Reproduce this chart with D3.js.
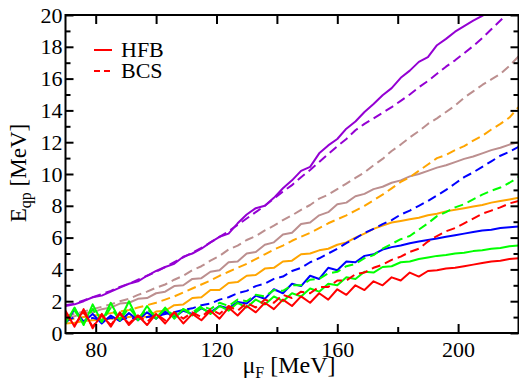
<!DOCTYPE html>
<html>
<head>
<meta charset="utf-8">
<script src="https://cdn.jsdelivr.net/npm/d3@7"></script>
<style>
body { margin: 0; background: #fff; }
svg { display: block; }
text { font-family: "Liberation Serif", "Times New Roman", serif; fill: #000; }
</style>
</head>
<body>
<svg id="chart" width="519" height="381"></svg>
<script>

// chemical potential grid (MeV)
var muF = [70,73,76,79,82,85,88,91,94,97,100,103,106,109,112,115,118,121,124,127,130,133,136,139,142,145,148,151,154,157,160,163,166,169,172,175,178,181,184,187,190,193,196,199,202,205,208,211,214,217,220];

// quasiparticle energies (MeV)
var hfbRed = [1.4,0.4,1.5,0.3,1.2,0.4,1.3,0.5,1.1,0.5, 1.2,0.6,1.3,0.6,1.2,0.8,1.4,0.9,1.6,1.1, 1.7,1.3,1.9,1.5,2.1,1.7,2.3,1.9,2.5,2.1, 2.75,2.4,3.0,2.7,3.25,3.0,3.5,3.3,3.8,3.55, 3.9,3.95,4.05,4.1,4.2,4.3,4.4,4.5,4.55,4.65, 4.7];
var bcsRed = [1.2,0.5,1.3,0.4,1.1,0.5,1.2,0.6,1.1,0.7, 1.2,0.8,1.3,0.9,1.3,1.0,1.5,1.2,1.7,1.4, 1.9,1.6,2.1,1.9,2.4,2.2,2.6,2.5,2.9,2.9, 3.3,3.3,3.7,3.8,4.1,4.3,4.6,4.8,5.1,5.3, 5.75,6.1,6.4,6.6,6.9,7.2,7.5,7.7,7.9,8.15, 8.3];
var hfbGreen = [0.6,1.6,0.5,1.8,0.7,1.9,0.8,2.0,0.8,1.7, 0.9,1.6,0.9,1.5,1.1,1.6,1.2,1.7,1.4,1.9, 1.6,2.1,1.8,2.3,2.0,2.5,2.3,2.8,2.6,3.1, 3.0,3.5,3.4,3.85,3.8,4.15,4.2,4.45,4.5,4.65, 4.75,4.85,4.9,5.0,5.05,5.15,5.2,5.3,5.35,5.45, 5.5];
var bcsGreen = [0.7,1.4,0.6,1.5,0.7,1.6,0.8,1.6,0.9,1.5, 1.0,1.5,1.1,1.5,1.3,1.7,1.5,1.9,1.7,2.1, 2.0,2.4,2.3,2.7,2.65,3.0,3.0,3.35,3.4,3.75, 3.85,4.2,4.35,4.7,4.9,5.3,5.6,5.9,6.1,6.5, 6.9,7.35,7.6,7.9,8.1,8.4,8.7,8.95,9.15,9.45, 9.8];
var hfbBlue = [0.6,1.5,0.7,1.2,0.6,1.1,0.75,1.25,0.8,1.3, 0.9,1.35,1.0,1.4,1.2,1.55,1.3,1.7,1.55,1.95, 1.85,2.35,2.15,2.75,2.5,3.1,2.95,3.6,3.4,4.1, 3.95,4.5,4.45,4.85,4.95,5.25,5.4,5.5,5.65,5.75, 5.85,5.95,6.05,6.15,6.25,6.35,6.45,6.5,6.6,6.65, 6.7];
var bcsBlue = [0.7,1.0,0.75,0.95,0.8,0.95,0.85,0.95,0.9,1.0, 1.05,1.2,1.3,1.45,1.55,1.75,1.85,2.1,2.25,2.5, 2.65,2.95,3.1,3.4,3.55,3.9,4.1,4.45,4.7,5.0, 5.3,5.65,5.95,6.3,6.55,6.85,7.1,7.45,7.7,8.0, 8.3,8.65,9.0,9.4,9.8,10.1,10.45,10.8,11.15,11.4, 11.7];
var hfbOrange = [0.6,0.65,0.75,0.8,0.85,0.9,0.95,1.0,1.05,1.0, 1.35,1.4,1.75,1.8,2.2,2.25,2.7,2.7,3.15,3.2, 3.6,3.65,4.05,4.1,4.5,4.55,4.95,5.0,5.2,5.3, 5.55,5.7,6.0,6.25,6.55,6.75,6.95,7.05,7.15,7.25, 7.4,7.5,7.65,7.75,7.85,7.95,8.05,8.2,8.3,8.4, 8.5];
var bcsOrange = [0.85,0.9,1.0,1.1,1.15,1.25,1.35,1.45,1.6,1.75, 1.9,2.1,2.3,2.55,2.8,3.05,3.3,3.6,3.85,4.1, 4.35,4.65,4.95,5.25,5.5,5.8,6.05,6.3,6.6,6.9, 7.15,7.4,7.7,8.0,8.35,8.7,9.1,9.5,9.8,10.2, 10.6,11.0,11.2,11.5,11.75,12.1,12.4,12.8,13.15,13.55, 14.2];
var hfbBrown = [1.0,1.05,1.25,1.3,1.5,1.6,1.85,1.9,2.15,2.2, 2.5,2.6,2.95,3.0,3.4,3.45,3.85,3.95,4.45,4.5, 5.0,5.1,5.55,5.7,6.2,6.3,6.85,6.95,7.4,7.6, 8.1,8.2,8.6,8.75,9.05,9.2,9.45,9.6,9.85,10.0, 10.2,10.4,10.55,10.75,10.95,11.1,11.3,11.5,11.65,11.85, 12.0];
var bcsBrown = [1.1,1.2,1.35,1.5,1.65,1.8,2.0,2.15,2.4,2.6, 2.85,3.05,3.35,3.6,3.95,4.2,4.55,4.85,5.25,5.5, 5.85,6.1,6.45,6.75,7.1,7.4,7.75,8.05,8.45,8.7, 9.05,9.4,9.75,10.1,10.55,10.95,11.45,11.85,12.3,12.7, 13.15,13.5,13.9,14.3,14.8,15.2,15.6,15.95,16.3,16.8, 17.4];
var hfbViolet = [1.7,1.8,2.0,2.25,2.35,2.6,2.85,3.1,3.25,3.6, 3.9,4.15,4.35,4.8,5.0,5.3,5.7,6.05,6.25,6.9, 7.45,7.85,8.0,8.5,9.1,9.6,10.2,10.45,11.3,11.8, 12.2,12.85,13.3,13.9,14.4,14.95,15.4,16.05,16.5,17.05, 17.35,18.1,18.5,18.95,19.3,19.65,19.95,20.3,20.7,21.1, 21.5];
var bcsViolet = [1.75,1.85,2.05,2.25,2.45,2.65,2.9,3.1,3.35,3.6, 3.85,4.15,4.45,4.75,5.05,5.35,5.7,6.05,6.4,6.8, 7.2,7.6,8.0,8.45,8.9,9.3,9.8,10.25,10.75,11.25, 11.75,12.2,12.75,13.15,13.5,13.85,14.2,14.6,15.0,15.45, 15.85,16.3,16.75,17.15,17.6,18.05,18.55,19.1,19.65,20.2, 20.7];

var xMajor = [80, 120, 160, 200];
var xMinor = [100, 140, 180];
var yMajor = [0, 2, 4, 6, 8, 10, 12, 14, 16, 18, 20];
var yMinor = [1, 3, 5, 7, 9, 11, 13, 15, 17, 19];

// series list: [values, colour, dashed?]
var series = [
	[bcsViolet, "#9400d3", true], [hfbViolet, "#9400d3", false],
	[bcsBrown, "#bc8f8f", true], [hfbBrown, "#bc8f8f", false],
	[bcsOrange, "#ffa500", true], [hfbOrange, "#ffa500", false],
	[bcsBlue, "#0000ff", true], [hfbBlue, "#0000ff", false],
	[bcsGreen, "#00ff00", true], [hfbGreen, "#00ff00", false],
	[bcsRed, "#ff0000", true], [hfbRed, "#ff0000", false]
];

var svg = d3.select("#chart");

var plotLeft = 65.5, plotRight = 518.5, plotTop = 15, plotBottom = 333;

var x = d3.scaleLinear().domain([70, 220]).range([plotLeft, plotRight]);
var y = d3.scaleLinear().domain([0, 20]).range([plotBottom, plotTop]);

svg.append("clipPath").attr("id", "plotclip")
	.append("rect")
	.attr("x", plotLeft).attr("y", plotTop)
	.attr("width", plotRight - plotLeft).attr("height", plotBottom - plotTop);

//draw curves
var line = d3.line()
	.x(function(d, i) { return x(muF[i]); })
	.y(function(d) { return y(d); });

var curves = svg.append("g").attr("clip-path", "url(#plotclip)");
series.forEach(function(s) {
	curves.append("path")
		.attr("d", line(s[0]))
		.attr("fill", "none")
		.attr("stroke", s[1])
		.attr("stroke-width", 2)
		.attr("stroke-linejoin", "round")
		.attr("stroke-dasharray", s[2] ? "9,5" : null);
});

//axes with inward ticks
function styleAxis(g, showText) {
	g.select(".domain").remove();
	g.selectAll("line").attr("stroke", "#000").attr("stroke-width", 2);
	if (!showText) g.selectAll("text").remove();
	else g.selectAll("text").style("font-size", "22px")
		.style("font-family", "'Liberation Serif', serif");
}

svg.append("g").attr("transform", "translate(0," + plotBottom + ")")
	.call(d3.axisBottom(x).tickValues(xMajor).tickSize(-9).tickPadding(8).tickFormat(d3.format("d")))
	.call(styleAxis, true);
svg.append("g").attr("transform", "translate(0," + plotBottom + ")")
	.call(d3.axisBottom(x).tickValues(xMinor).tickSize(-6))
	.call(styleAxis, false);
svg.append("g").attr("transform", "translate(0," + plotTop + ")")
	.call(d3.axisTop(x).tickValues(xMajor.concat(xMinor)).tickSize(-9))
	.call(styleAxis, false);

svg.append("g").attr("transform", "translate(" + plotLeft + ",0)")
	.call(d3.axisLeft(y).tickValues(yMajor).tickSize(-8).tickPadding(3).tickFormat(d3.format("d")))
	.call(styleAxis, true);
svg.append("g").attr("transform", "translate(" + plotLeft + ",0)")
	.call(d3.axisLeft(y).tickValues(yMinor).tickSize(-5))
	.call(styleAxis, false);
svg.append("g").attr("transform", "translate(" + plotRight + ",0)")
	.call(d3.axisRight(y).tickValues(yMajor).tickSize(-8))
	.call(styleAxis, false);
svg.append("g").attr("transform", "translate(" + plotRight + ",0)")
	.call(d3.axisRight(y).tickValues(yMinor).tickSize(-5))
	.call(styleAxis, false);

//frame
svg.append("rect")
	.attr("x", plotLeft).attr("y", plotTop)
	.attr("width", plotRight - plotLeft).attr("height", plotBottom - plotTop)
	.attr("fill", "none").attr("stroke", "#000").attr("stroke-width", 2);

//axis titles
var xt = svg.append("text")
	.attr("x", 289).attr("y", 373)
	.attr("text-anchor", "middle")
	.style("font-size", "24px");
xt.append("tspan").text("\u03bc");
xt.append("tspan").attr("dy", 5).style("font-size", "16px").text("F");
xt.append("tspan").attr("dy", -5).text(" [MeV]");

var yt = svg.append("text")
	.attr("transform", "translate(26,173) rotate(-90)")
	.attr("text-anchor", "middle")
	.style("font-size", "23px");
yt.append("tspan").text("E");
yt.append("tspan").attr("dy", 5).style("font-size", "16px").text("qp");
yt.append("tspan").attr("dy", -5).text(" [MeV]");

//legend
var legend = [["HFB", false, 50], ["BCS", true, 71]];
legend.forEach(function(l) {
	svg.append("line")
		.attr("x1", 94).attr("x2", 112)
		.attr("y1", l[2]).attr("y2", l[2])
		.attr("stroke", "#ff0000").attr("stroke-width", 2)
		.attr("stroke-dasharray", l[1] ? "6,4" : null);
	svg.append("text")
		.attr("x", 121).attr("y", l[2] + 7)
		.style("font-size", "22px")
		.text(l[0]);
});

</script>
</body>
</html>
